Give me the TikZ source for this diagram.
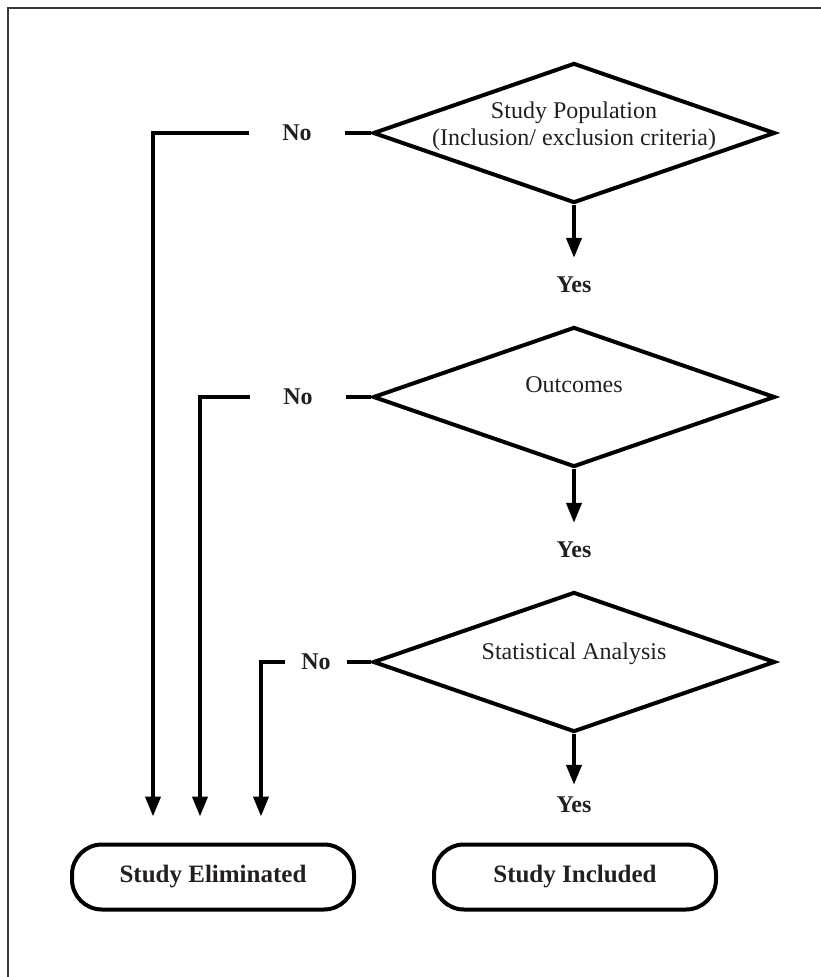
\documentclass[tikz,border=0pt]{standalone}
\usepackage{fontspec}
\setmainfont{Liberation Serif}
\usetikzlibrary{shapes.geometric,arrows.meta,positioning}
\definecolor{inkgray}{HTML}{231F20}
\definecolor{framegray}{HTML}{3A3A3A}
\begin{document}
\begin{tikzpicture}[x=1pt,y=-1pt,
  decision/.style={diamond,draw=black,line width=4pt,minimum width=402pt,minimum height=140pt,inner sep=0pt},
  dtext/.style={font=\fontsize{24}{27}\selectfont,text=inkgray,align=center,inner sep=0pt},
  lbl/.style={font=\fontsize{24}{27}\selectfont\bfseries,text=inkgray,inner sep=0pt},
  nolbl/.style={lbl,inner xsep=33pt},
  endbox/.style={draw=black,line width=4pt,rounded corners=30pt,minimum width=282pt,minimum height=65pt,font=\fontsize{25}{28}\selectfont\bfseries,text=inkgray},
  flow/.style={line width=4pt},
  arr/.style={flow,-{Triangle[length=20pt,width=15pt]}}]
\useasboundingbox (0,0) rectangle (821,977);
\draw [framegray,line width=2.5pt] (8,977) -- (8,8) -- (821,8);
\node [decision] (pop) at (574,133) {};
\node [dtext] at ([yshift=7pt]pop.center) {Study Population\\(Inclusion/ exclusion criteria)};
\node [decision] (outc) at (574,397) {};
\node [dtext] at ([yshift=12pt]outc.center) {Outcomes};
\node [decision] (stat) at (574,662) {};
\node [dtext] at ([yshift=8pt]stat.center) {Statistical Analysis};
\node [lbl] (yes1) at (574,285) {Yes};
\node [lbl] (yes2) at (574,550) {Yes};
\node [lbl] (yes3) at (574,805) {Yes};
\node [nolbl] (no1) at (297,133) {No};
\node [nolbl] (no2) at (298,397) {No};
\node [nolbl,inner xsep=16pt] (no3) at (316,662) {No};
\node [endbox] (elim) at (213,877) {Study Eliminated};
\node [endbox] (incl) at (575,877) {Study Included};
\draw [arr,shorten >=19pt] (pop.south) -- (yes1.north);
\draw [arr,shorten >=19pt] (outc.south) -- (yes2.north);
\draw [arr,shorten >=12pt] (stat.south) -- (yes3.north);
\draw [flow] (pop.west) -- (no1.east);
\draw [flow] (outc.west) -- (no2.east);
\draw [flow] (stat.west) -- (no3.east);
\draw [arr,shorten >=26pt] (no1.west) -| ([xshift=-60pt]elim.north);
\draw [arr,shorten >=26pt] (no2.west) -| ([xshift=-13pt]elim.north);
\draw [arr,shorten >=26pt] (no3.west) -| ([xshift=48pt]elim.north);
\end{tikzpicture}
\end{document}
